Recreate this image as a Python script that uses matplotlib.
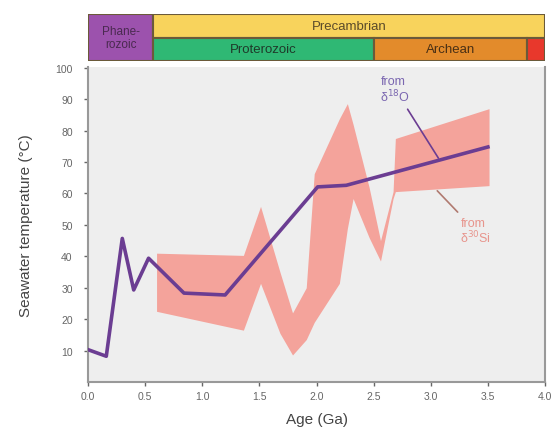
import numpy as np
import matplotlib
matplotlib.use('Agg')
import matplotlib.pyplot as plt
from matplotlib.patches import Rectangle

plt.rcParams['font.family'] = ['Liberation Sans', 'DejaVu Sans']

# oxygen isotope curve (age in Ga, temperature in C)
o18_age = [0.0, 0.16, 0.30, 0.40, 0.53, 0.84, 1.20, 2.01, 2.26, 3.50]
o18_temp = [10.3, 8.2, 45.7, 29.3, 39.4, 28.3, 27.7, 62.1, 62.6, 74.8]

# silicon isotope band
si_age = [0.60, 1.36, 1.51, 1.68, 1.79, 1.91, 1.98, 2.20, 2.27, 2.32, 2.46, 2.56, 2.67, 2.69, 3.51]
si_upper = [41.0, 40.3, 55.9, 35.0, 22.0, 30.0, 66.3, 83.8, 88.6, 82.0, 62.0, 45.0, 60.6, 77.5, 87.0]
si_lower = [22.5, 16.5, 31.4, 15.5, 8.6, 13.5, 19.0, 31.4, 48.9, 58.4, 46.0, 38.5, 58.4, 60.6, 62.5]

# geologic time bar
eon_names = ['Phane-\nrozoic', 'Proterozoic', 'Archean', '']
eon_start = [0.0, 0.57, 2.5, 3.84]
eon_end = [0.57, 2.5, 3.84, 4.0]
eon_colors = ['#9c52ad', '#2fb874', '#e38b2b', '#e8382c']

x_ticks = [0.0, 0.5, 1.0, 1.5, 2.0, 2.5, 3.0, 3.5, 4.0]
y_ticks = [10, 20, 30, 40, 50, 60, 70, 80, 90, 100]

fig = plt.figure(figsize=(5.57, 4.35), dpi=100)
ax = fig.add_axes([0.158, 0.1195, 0.8205, 0.7245])
ax.set_facecolor('#eeeeee')

ax.fill_between(si_age, si_lower, si_upper, color='#f4a39b', lw=0, zorder=2)
ax.plot(o18_age, o18_temp, color='#6b3d92', lw=2.6, zorder=3)

# labels with leader lines
ax.annotate('from\nδ$^{18}$O', xy=(3.08, 70.5), xytext=(2.56, 93),
            color='#7a66b0', fontsize=9, ha='left', va='center', linespacing=1.0,
            arrowprops=dict(arrowstyle='-', color='#6b3d92', lw=1.2))
ax.annotate('from\nδ$^{30}$Si', xy=(3.04, 61.5), xytext=(3.26, 48),
            color='#e7948c', fontsize=9, ha='left', va='center', linespacing=1.0,
            arrowprops=dict(arrowstyle='-', color='#b07a70', lw=1.2))

ax.set_xlim(0, 4.0)
ax.set_ylim(0, 100.3)
ax.set_xticks(x_ticks)
ax.set_xticklabels(['%.1f' % v for v in x_ticks])
ax.set_yticks(y_ticks)
ax.tick_params(labelsize=7.5, colors='#666666', length=3, width=1)
ax.tick_params(axis='y', pad=8)
for s in ['left', 'bottom', 'right']:
    ax.spines[s].set_color('#999999')
    ax.spines[s].set_linewidth(1.5)
ax.spines['top'].set_visible(False)
ax.set_xlabel('Age (Ga)', fontsize=11, color='#444444', labelpad=8)
ax.set_ylabel('Seawater temperature (°C)', fontsize=11, color='#444444', labelpad=16)

# geologic time bar on top
bx = fig.add_axes([0.158, 0.857, 0.8205, 0.108])
bx.set_xlim(0, 4.0)
bx.set_ylim(0, 2)
bx.axis('off')
edge = '#6b5a3a'
bx.add_patch(Rectangle((eon_start[0], 0), eon_end[0] - eon_start[0], 2,
                       facecolor=eon_colors[0], edgecolor=edge, lw=1.5))
bx.add_patch(Rectangle((eon_end[0], 1), 4.0 - eon_end[0], 1,
                       facecolor='#f8d35c', edgecolor=edge, lw=1.5))
for i in range(1, 4):
    bx.add_patch(Rectangle((eon_start[i], 0), eon_end[i] - eon_start[i], 1,
                           facecolor=eon_colors[i], edgecolor=edge, lw=1.5))
bx.text(eon_end[0] / 2, 1.0, eon_names[0], ha='center', va='center', fontsize=8.5,
        color='#4a2a50', linespacing=1.1)
bx.text((eon_end[0] + 4.0) / 2, 1.5, 'Precambrian', ha='center', va='center',
        fontsize=9.5, color='#5a4a2a')
for i in range(1, 3):
    bx.text((eon_start[i] + eon_end[i]) / 2, 0.5, eon_names[i], ha='center',
            va='center', fontsize=9.5, color='#1f3a2a' if i == 1 else '#4a3015')

fig.savefig('out.png', dpi=100)
